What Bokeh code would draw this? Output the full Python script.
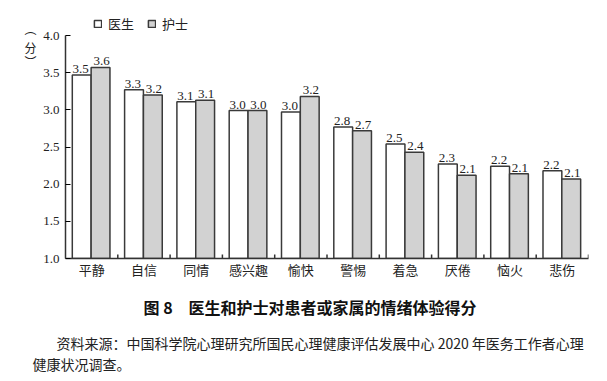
from bokeh.plotting import figure
from bokeh.models import (ColumnDataSource, FixedTicker, LinearAxis, Title, Range1d,
                          Legend, LegendItem)
from bokeh.transform import dodge
from bokeh.embed import file_html
from bokeh.resources import INLINE

categories = ["平静", "自信", "同情", "感兴趣", "愉快", "警惕", "着急", "厌倦", "恼火", "悲伤"]
doctor = [3.47, 3.27, 3.11, 2.99, 2.97, 2.77, 2.54, 2.27, 2.24, 2.18]
nurse = [3.57, 3.20, 3.13, 2.99, 3.18, 2.72, 2.43, 2.12, 2.14, 2.07]
y_ticks = [1.0, 1.5, 2.0, 2.5, 3.0, 3.5, 4.0]
series_names = ["医生", "护士"]
series_fills = ["white", "#d2d2d2"]
unit_chars = ["︵", "分", "︶"]
title_text = "图 8\u3000医生和护士对患者或家属的情绪体验得分"
source_lines = ["资料来源：中国科学院心理研究所国民心理健康评估发展中心 2020 年医务工作者心理",
                "健康状况调查。"]

CJK = "Noto Sans CJK SC"
SERIF = "Liberation Serif"
EDGE = "#3a3a3a"

src = ColumnDataSource(dict(
    cat=categories, doctor=doctor, nurse=nurse,
    dl=[f"{v:.1f}" for v in doctor], nl=[f"{v:.1f}" for v in nurse],
    base=[1.0] * len(categories),
))

# frame reaches the top of the canvas; the value axis itself stops at 4.0
p = figure(x_range=categories, y_range=Range1d(1.0, 4.471), width=607, height=381,
           output_backend="svg", toolbar_location=None,
           min_border_left=65, min_border_right=19, min_border_top=0, min_border_bottom=123)
p.x_range.range_padding = 0
p.outline_line_color = None
p.grid.visible = False

r1 = p.vbar(x=dodge("cat", -0.19, range=p.x_range), top="doctor", bottom="base", width=0.36,
            source=src, fill_color=series_fills[0], line_color=EDGE, line_width=1.5)
r2 = p.vbar(x=dodge("cat", 0.17, range=p.x_range), top="nurse", bottom="base", width=0.36,
            source=src, fill_color=series_fills[1], line_color=EDGE, line_width=1.5)

p.text(x=dodge("cat", -0.21, range=p.x_range), y="doctor", text="dl", source=src,
       text_align="center", text_baseline="bottom", y_offset=-2,
       text_font=SERIF, text_font_size="13px", text_color="#222222")
p.text(x=dodge("cat", 0.19, range=p.x_range), y="nurse", text="nl", source=src,
       text_align="center", text_baseline="bottom", y_offset=-2,
       text_font=SERIF, text_font_size="13px", text_color="#222222")

# boundary tick marks on the category axis
src_t = ColumnDataSource(dict(cat=categories, y0=[1.0] * len(categories), y1=[1.055] * len(categories)))
p.segment(x0=dodge("cat", 0.5, range=p.x_range), x1=dodge("cat", 0.5, range=p.x_range),
          y0="y0", y1="y1", source=src_t, line_color="#333333", line_width=1.5)

p.yaxis.bounds = (1.0, 4.0)
p.yaxis.ticker = FixedTicker(ticks=y_ticks)
p.yaxis.major_label_overrides = {t: f"{t:.1f}" for t in y_ticks}
p.yaxis.major_tick_in = 5
p.yaxis.major_tick_out = 0
p.yaxis.minor_tick_line_color = None
p.yaxis.major_label_text_font = SERIF
p.yaxis.major_label_text_font_size = "13px"
p.yaxis.major_label_text_color = "#222222"
p.yaxis.major_label_standoff = 6
p.xaxis.major_tick_line_color = None
p.xaxis.major_label_text_font = CJK
p.xaxis.major_label_text_font_size = "13px"
p.xaxis.major_label_text_color = "#222222"
p.xaxis.major_label_standoff = -5
for ax in (p.xaxis, p.yaxis):
    ax.axis_line_color = "#333333"
    ax.axis_line_width = 1.5

# unit label "（分）" written vertically: one character per tick on an extra left axis
unit_pos = [4.094, 3.839, 3.650]
unit_axis = LinearAxis(ticker=FixedTicker(ticks=unit_pos),
                       major_label_overrides=dict(zip(unit_pos, unit_chars)),
                       axis_line_color=None, major_tick_line_color=None, minor_tick_line_color=None,
                       major_label_text_font=CJK, major_label_text_font_size="12px",
                       major_label_text_color="#222222", major_label_standoff=-2,
                       major_label_text_align="center")
p.add_layout(unit_axis, "left")

legend = Legend(items=[LegendItem(label=series_names[0], renderers=[r1]),
                       LegendItem(label=series_names[1], renderers=[r2])],
                orientation="horizontal", location=(28, 225), padding=0, margin=0,
                spacing=13, glyph_width=9, glyph_height=9, label_height=9,
                label_standoff=6, label_text_font=CJK, label_text_font_size="13px",
                label_text_color="#222222", border_line_color=None, background_fill_alpha=0)
p.add_layout(legend, "center")

t1 = Title(text=title_text, align="left", offset=78, text_font=CJK, text_font_size="16px",
           text_font_style="bold", text_color="#111111", standoff=23)
t2 = Title(text=source_lines[0], align="left", offset=-9, text_font=CJK, text_font_size="14px",
           text_font_style="normal", text_color="#222222", standoff=0)
t3 = Title(text=source_lines[1], align="left", offset=-33, text_font=CJK, text_font_size="14px",
           text_font_style="normal", text_color="#222222", standoff=-2)
p.add_layout(t1, "below")
p.add_layout(t2, "below")
p.add_layout(t3, "below")

open("out.html", "w").write(file_html(p, INLINE))
